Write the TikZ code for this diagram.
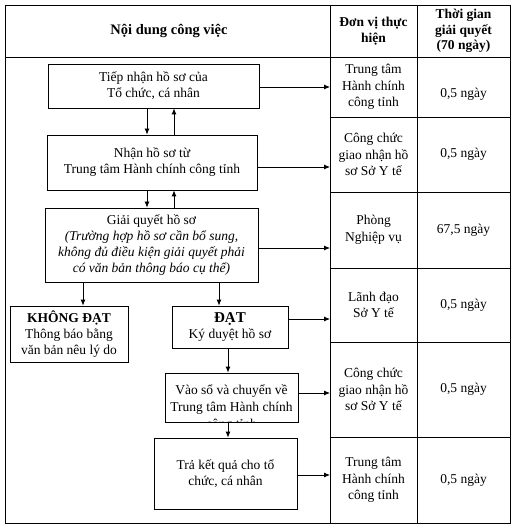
\documentclass[tikz,border=0pt]{standalone}
\usepackage{fontspec}
\setmainfont{Liberation Serif}
\usepackage{tikz}
\usetikzlibrary{arrows.meta, positioning, calc}

\begin{document}
\begin{tikzpicture}[
        x=1pt, y=-1pt,
        font=\fontsize{13.5}{16}\selectfont,
        stepbox/.style={rectangle, draw=black, fill=white, line width=0.8pt, align=center, inner sep=2pt},
        cell/.style={align=center, inner sep=1pt, font=\fontsize{13.5}{16.5}\selectfont},
        head/.style={align=center, inner sep=1pt, font=\fontsize{13.5}{15.5}\selectfont\bfseries},
        arr/.style={-{Latex[length=6pt,width=5pt]}, line width=0.8pt},
        grid/.style={line width=0.8pt}
    ]
        \useasboundingbox (0,0) rectangle (513,529);

        % Table frame
        \draw[grid] (5,5) rectangle (510,523);
        \draw[grid] (5,57) -- (510,57);
        \coordinate (c1) at (330,0);
        \coordinate (c2) at (417,0);
        \draw[grid] (330,5) -- (330,523);
        \draw[grid] (417,5) -- (417,523);
        \foreach \y in {117,192,268,342,437}
            \draw[grid] (330,\y) -- (510,\y);

        % Header
        \node[head, font=\fontsize{14.5}{16}\selectfont\bfseries] (h1) at (169,31) {Nội dung công việc};
        \node[head] (h2) at (373.5,31) {Đơn vị thực\\hiện};
        \node[head] (h3) at (463.5,31) {Thời gian\\giải quyết\\(70 ngày)};

        % Steps
        \node[stepbox, minimum width=211, minimum height=44] (tn) at (153.5,86) {Tiếp nhận hồ sơ của\\Tổ chức, cá nhân};
        \draw[line width=1.6pt] (tn.south west) -- (tn.south east);
        \node[stepbox, minimum width=210, minimum height=55] (nh) at (152,162.5) {Nhận hồ sơ từ\\Trung tâm Hành chính công tỉnh};
        \node[stepbox, minimum width=213, minimum height=74] (gq) at (151.5,245) {Giải quyết hồ sơ\\\textit{(Trường hợp hồ sơ cần bổ sung,}\\\textit{không đủ điều kiện giải quyết phải}\\\textit{có văn bản thông báo cụ thể)}};
        \node[stepbox, minimum width=118, minimum height=56] (kd) at (69,334) {\textbf{KHÔNG ĐẠT}\\Thông báo bằng\\văn bản nêu lý do};
        \node[stepbox, minimum width=116, minimum height=42] (dat) at (230,327) {\textbf{\fontsize{15}{16}\selectfont ĐẠT}\\Ký duyệt hồ sơ};
        \node[stepbox, minimum width=133, minimum height=49,
            path picture={\node[align=center, anchor=north, inner sep=0pt, font=\fontsize{13.5}{17}\selectfont] at ([yshift=-10pt]path picture bounding box.north) {Vào sổ và chuyển về\\Trung tâm Hành chính\\công tỉnh};}] (vs) at (231.5,397.5) {};
        \node[stepbox, minimum width=143, minimum height=71] (tk) at (225.5,473.5) {Trả kết quả cho tổ\\chức, cá nhân};

        % Units and times
        \node[cell] (u1) at (373.5,87) {Trung tâm\\Hành chính\\công tỉnh};
        \node[cell] (t1) at (463.5,94) {0,5 ngày};
        \node[cell] (u2) at (373.5,154.5) {Công chức\\giao nhận hồ\\sơ Sở Y tế};
        \node[cell] (t2) at (463.5,154.5) {0,5 ngày};
        \node[cell] (u3) at (373.5,230) {Phòng\\Nghiệp vụ};
        \node[cell] (t3) at (463.5,230) {67,5 ngày};
        \node[cell] (u4) at (373.5,305) {Lãnh đạo\\Sở Y tế};
        \node[cell] (t4) at (463.5,305) {0,5 ngày};
        \node[cell] (u5) at (373.5,389.5) {Công chức\\giao nhận hồ\\sơ Sở Y tế};
        \node[cell] (t5) at (463.5,389.5) {0,5 ngày};
        \node[cell] (u6) at (373.5,480) {Trung tâm\\Hành chính\\công tỉnh};
        \node[cell] (t6) at (463.5,480) {0,5 ngày};

        % Arrows between steps
        \draw[arr] ([xshift=-6.5pt]tn.south) -- ([xshift=-6.5pt]tn.south |- nh.north);
        \draw[arr] ([xshift=20.5pt]tn.south |- nh.north) -- ([xshift=20.5pt]tn.south);
        \draw[arr] ([xshift=-5pt]nh.south) -- ([xshift=-5pt]nh.south |- gq.north);
        \draw[arr] ([xshift=22pt]nh.south |- gq.north) -- ([xshift=22pt]nh.south);
        \draw[arr] (gq.south -| kd.north) ++(14,0) -- ([xshift=14pt]kd.north);
        \draw[arr] (gq.south -| dat.north) ++(-11,0) -- ([xshift=-11pt]dat.north);
        \draw[arr] ([xshift=-2pt]dat.south) -- ([xshift=-2pt]dat.south |- vs.north);
        \draw[arr] ([xshift=-3.5pt]vs.south) -- ([xshift=-3.5pt]vs.south |- tk.north);

        % Arrows to the table
        \draw[arr] ([yshift=-1pt]tn.east) -- ([yshift=-1pt]tn.east -| c1);
        \draw[arr] ([yshift=-4.5pt]nh.east) -- ([yshift=-4.5pt]nh.east -| c1);
        \draw[arr] ([yshift=-3pt]gq.east) -- ([yshift=-3pt]gq.east -| c1);
        \draw[arr] ([yshift=8pt]dat.east) -- ([yshift=8pt]dat.east -| c1);
        \draw[arr] ([yshift=4.5pt]vs.east) -- ([yshift=4.5pt]vs.east -| c1);
        \draw[arr] ([yshift=-1.5pt]tk.east) -- ([yshift=-1.5pt]tk.east -| c1);
    \end{tikzpicture}
\end{document}
